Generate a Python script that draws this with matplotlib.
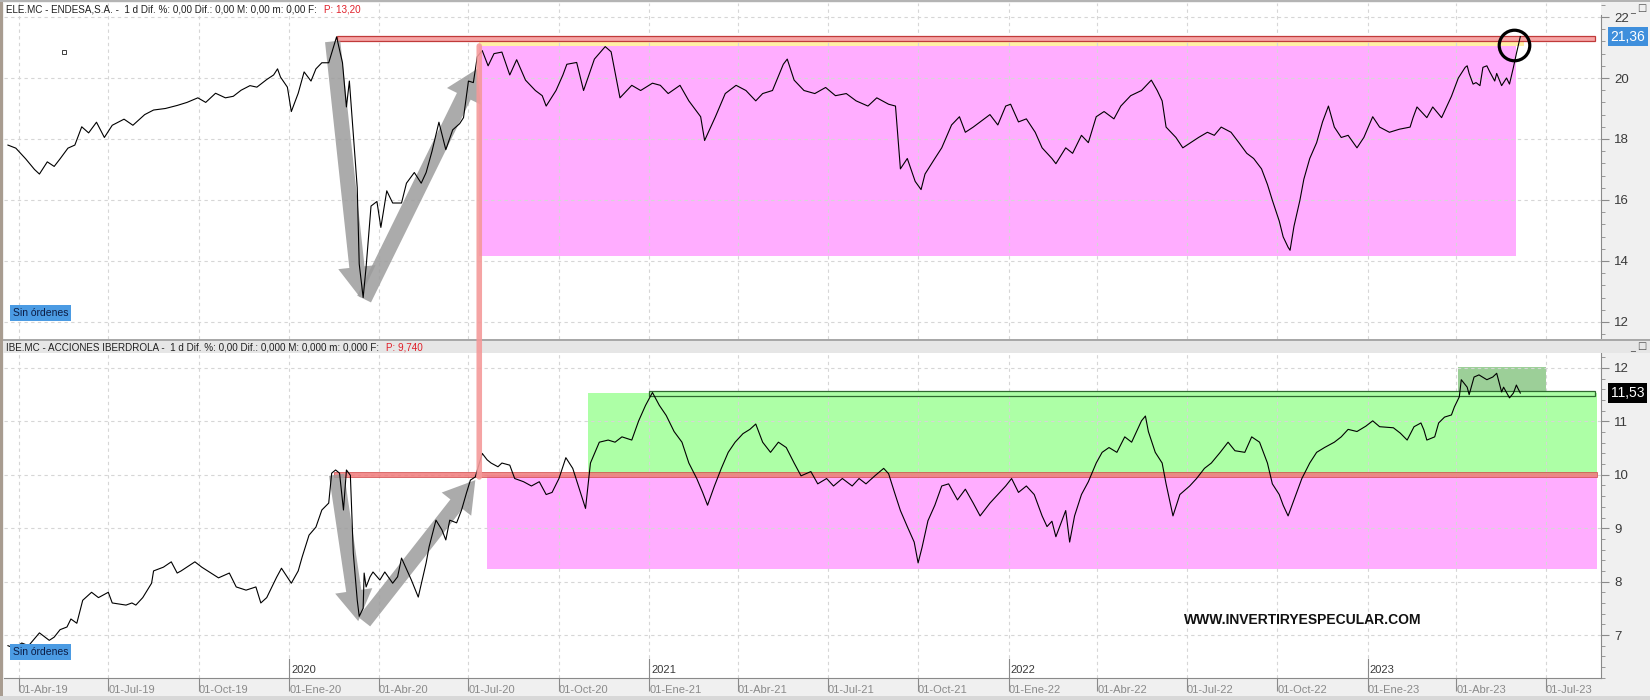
import matplotlib
matplotlib.use("Agg")
import matplotlib.pyplot as plt
import matplotlib.dates as mdates
from matplotlib.patches import Rectangle, FancyArrowPatch, ConnectionPatch
from matplotlib.ticker import MultipleLocator
import pandas as pd

# ---- ELE.MC (Endesa) daily close ----
ele_dates = [
    '2019-03-21', '2019-03-29', '2019-04-08', '2019-04-17', '2019-04-22', '2019-04-30', '2019-05-07',
    '2019-05-13', '2019-05-21', '2019-05-28', '2019-06-04', '2019-06-11', '2019-06-19', '2019-06-27',
    '2019-07-05', '2019-07-17', '2019-07-26', '2019-08-07', '2019-08-16', '2019-08-28', '2019-09-09',
    '2019-09-19', '2019-09-30', '2019-10-08', '2019-10-18', '2019-10-28', '2019-11-05', '2019-11-13',
    '2019-11-22', '2019-11-29', '2019-12-09', '2019-12-16', '2019-12-20', '2019-12-23', '2019-12-30',
    '2020-01-03', '2020-01-10', '2020-01-16', '2020-01-23', '2020-01-28', '2020-02-03', '2020-02-10',
    '2020-02-18', '2020-02-24', '2020-02-28', '2020-03-02', '2020-03-05', '2020-03-10', '2020-03-12',
    '2020-03-16', '2020-03-19', '2020-03-24', '2020-03-30', '2020-04-03', '2020-04-09', '2020-04-15',
    '2020-04-24', '2020-04-29', '2020-05-07', '2020-05-14', '2020-05-19', '2020-05-25', '2020-06-01',
    '2020-06-08', '2020-06-15', '2020-06-22', '2020-06-26', '2020-07-01', '2020-07-06', '2020-07-10',
    '2020-07-15', '2020-07-21', '2020-07-27', '2020-08-04', '2020-08-12', '2020-08-19', '2020-08-28',
    '2020-09-07', '2020-09-14', '2020-09-18', '2020-09-28', '2020-10-05', '2020-10-09', '2020-10-19',
    '2020-10-26', '2020-11-06', '2020-11-17', '2020-11-23', '2020-12-02', '2020-12-14', '2020-12-23',
    '2021-01-04', '2021-01-12', '2021-01-20', '2021-02-01', '2021-02-10', '2021-02-22', '2021-02-26',
    '2021-03-09', '2021-03-19', '2021-03-30', '2021-04-09', '2021-04-19', '2021-04-26', '2021-05-06',
    '2021-05-17', '2021-05-21', '2021-05-28', '2021-06-07', '2021-06-18', '2021-06-29', '2021-07-09',
    '2021-07-20', '2021-07-30', '2021-08-11', '2021-08-20', '2021-09-01', '2021-09-08', '2021-09-13',
    '2021-09-20', '2021-09-28', '2021-10-04', '2021-10-08', '2021-10-18', '2021-10-25', '2021-11-04',
    '2021-11-12', '2021-11-18', '2021-11-26', '2021-12-03', '2021-12-13', '2021-12-21', '2021-12-29',
    '2022-01-03', '2022-01-11', '2022-01-19', '2022-01-28', '2022-02-04', '2022-02-14', '2022-02-18',
    '2022-02-28', '2022-03-07', '2022-03-16', '2022-03-23', '2022-03-31', '2022-04-08', '2022-04-18',
    '2022-04-25', '2022-05-05', '2022-05-16', '2022-05-26', '2022-06-01', '2022-06-06', '2022-06-10',
    '2022-06-20', '2022-06-27', '2022-07-05', '2022-07-13', '2022-07-22', '2022-07-29', '2022-08-05',
    '2022-08-15', '2022-08-23', '2022-08-31', '2022-09-07', '2022-09-15', '2022-09-21', '2022-09-26',
    '2022-10-03', '2022-10-07', '2022-10-12', '2022-10-14', '2022-10-18', '2022-10-24', '2022-10-28',
    '2022-11-03', '2022-11-10', '2022-11-16', '2022-11-22', '2022-11-28', '2022-12-05', '2022-12-12',
    '2022-12-21', '2022-12-28', '2023-01-06', '2023-01-13', '2023-01-23', '2023-02-02', '2023-02-13',
    '2023-02-16', '2023-02-20', '2023-03-02', '2023-03-08', '2023-03-17', '2023-03-22', '2023-03-27',
    '2023-04-03', '2023-04-10', '2023-04-12', '2023-04-14', '2023-04-18', '2023-04-21', '2023-04-25',
    '2023-04-28', '2023-05-02', '2023-05-05', '2023-05-10', '2023-05-12', '2023-05-17', '2023-05-22',
    '2023-05-25', '2023-05-29', '2023-06-01', '2023-06-05',
]
ele_close = [
    17.8, 17.7, 17.35, 17.0, 16.85, 17.25, 17.1,
    17.35, 17.7, 17.8, 18.4, 18.2, 18.55, 18.05,
    18.45, 18.65, 18.45, 18.8, 18.95, 19.0, 19.1,
    19.2, 19.35, 19.2, 19.5, 19.35, 19.4, 19.6,
    19.75, 19.7, 19.95, 20.1, 20.3, 20.03, 19.7,
    18.9, 19.5, 20.2, 19.9, 20.3, 20.5, 20.5,
    21.35, 20.5, 19.05, 19.9, 18.6, 16.4, 13.9,
    12.8, 13.8, 15.8, 15.95, 15.1, 16.3, 15.9,
    15.9, 16.55, 16.9, 16.55, 16.9, 17.6, 18.55,
    17.65, 18.3, 18.5, 18.7, 19.9, 19.85, 20.7,
    20.9, 20.4, 20.8, 20.85, 20.1, 20.6, 19.93,
    19.59, 19.42, 19.08, 19.59, 20.1, 20.45, 20.51,
    19.59, 20.62, 21.03, 20.86, 19.35, 19.76, 19.59,
    19.83, 19.76, 19.49, 19.76, 19.25, 18.73, 17.95,
    18.73, 19.49, 19.76, 19.59, 19.25, 19.49, 19.59,
    20.45, 20.62, 19.93, 19.59, 19.49, 19.69, 19.42,
    19.49, 19.25, 19.08, 19.35, 19.14, 19.08, 17.02,
    17.36, 16.61, 16.34, 16.85, 17.36, 17.71, 18.46,
    18.73, 18.22, 18.39, 18.56, 18.8, 18.46, 19.08,
    19.14, 18.56, 18.66, 18.22, 17.71, 17.36, 17.19,
    17.71, 17.53, 18.12, 17.88, 18.73, 18.9, 18.66,
    19.08, 19.42, 19.59, 19.93, 19.59, 19.25, 18.39,
    18.05, 17.71, 17.88, 18.05, 18.22, 18.12, 18.39,
    18.22, 17.88, 17.53, 17.36, 17.02, 16.51, 15.99,
    15.31, 14.79, 14.45, 14.35, 15.14, 15.99, 16.68,
    17.36, 17.88, 18.56, 19.08, 18.39, 18.05, 18.12,
    17.71, 18.05, 18.73, 18.39, 18.22, 18.32, 18.39,
    18.7, 19.05, 18.7, 19.05, 18.7, 19.05, 19.4,
    20.0, 20.35, 20.4, 20.15, 19.8, 19.85, 19.75,
    20.35, 20.4, 20.2, 19.9, 20.15, 19.75, 20.0,
    19.8, 20.35, 20.8, 21.36,
]

# ---- IBE.MC (Iberdrola) daily close ----
ibe_dates = [
    '2019-03-21', '2019-03-28', '2019-04-04', '2019-04-11', '2019-04-22', '2019-05-02', '2019-05-07',
    '2019-05-13', '2019-05-20', '2019-05-24', '2019-05-30', '2019-06-05', '2019-06-14', '2019-06-21',
    '2019-07-01', '2019-07-05', '2019-07-19', '2019-07-25', '2019-07-29', '2019-08-05', '2019-08-14',
    '2019-08-16', '2019-08-26', '2019-09-03', '2019-09-09', '2019-09-13', '2019-09-27', '2019-10-04',
    '2019-10-21', '2019-11-01', '2019-11-08', '2019-11-18', '2019-11-28', '2019-12-03', '2019-12-09',
    '2019-12-19', '2019-12-24', '2020-01-03', '2020-01-10', '2020-01-14', '2020-01-21', '2020-01-28',
    '2020-02-03', '2020-02-10', '2020-02-13', '2020-02-17', '2020-02-21', '2020-02-25', '2020-02-28',
    '2020-03-03', '2020-03-06', '2020-03-10', '2020-03-12', '2020-03-16', '2020-03-17', '2020-03-19',
    '2020-03-23', '2020-03-26', '2020-04-02', '2020-04-07', '2020-04-15', '2020-04-20', '2020-04-24',
    '2020-05-04', '2020-05-11', '2020-05-15', '2020-05-19', '2020-05-22', '2020-05-29', '2020-06-04',
    '2020-06-08', '2020-06-12', '2020-06-19', '2020-06-24', '2020-06-29', '2020-07-03', '2020-07-08',
    '2020-07-15', '2020-07-20', '2020-07-24', '2020-07-31', '2020-08-04', '2020-08-12', '2020-08-17',
    '2020-08-26', '2020-09-03', '2020-09-11', '2020-09-18', '2020-09-24', '2020-10-01', '2020-10-08',
    '2020-10-15', '2020-10-20', '2020-10-28', '2020-11-02', '2020-11-11', '2020-11-20', '2020-11-27',
    '2020-12-04', '2020-12-14', '2020-12-21', '2020-12-28', '2021-01-04', '2021-01-11', '2021-01-18',
    '2021-01-26', '2021-02-03', '2021-02-10', '2021-02-18', '2021-02-24', '2021-03-01', '2021-03-08',
    '2021-03-15', '2021-03-22', '2021-03-29', '2021-04-06', '2021-04-13', '2021-04-19', '2021-04-26',
    '2021-05-04', '2021-05-12', '2021-05-20', '2021-05-28', '2021-06-04', '2021-06-14', '2021-06-21',
    '2021-06-30', '2021-07-07', '2021-07-16', '2021-07-26', '2021-08-02', '2021-08-09', '2021-08-18',
    '2021-08-27', '2021-09-01', '2021-09-07', '2021-09-13', '2021-09-20', '2021-09-27', '2021-10-01',
    '2021-10-05', '2021-10-11', '2021-10-18', '2021-10-25', '2021-11-01', '2021-11-10', '2021-11-18',
    '2021-11-26', '2021-12-03', '2021-12-13', '2021-12-21', '2021-12-29', '2022-01-04', '2022-01-11',
    '2022-01-19', '2022-01-27', '2022-02-04', '2022-02-09', '2022-02-14', '2022-02-18', '2022-02-28',
    '2022-03-04', '2022-03-09', '2022-03-16', '2022-03-23', '2022-03-31', '2022-04-06', '2022-04-13',
    '2022-04-21', '2022-04-29', '2022-05-06', '2022-05-16', '2022-05-20', '2022-05-23', '2022-05-30',
    '2022-06-06', '2022-06-10', '2022-06-17', '2022-06-24', '2022-07-04', '2022-07-11', '2022-07-19',
    '2022-07-26', '2022-08-04', '2022-08-12', '2022-08-19', '2022-08-29', '2022-09-05', '2022-09-13',
    '2022-09-21', '2022-09-26', '2022-10-03', '2022-10-07', '2022-10-12', '2022-10-18', '2022-10-26',
    '2022-11-03', '2022-11-10', '2022-11-18', '2022-11-28', '2022-12-05', '2022-12-12', '2022-12-21',
    '2022-12-30', '2023-01-06', '2023-01-13', '2023-01-27', '2023-02-03', '2023-02-10', '2023-02-17',
    '2023-02-24', '2023-02-27', '2023-03-02', '2023-03-10', '2023-03-14', '2023-03-20', '2023-03-27',
    '2023-03-30', '2023-04-04', '2023-04-06', '2023-04-12', '2023-04-14', '2023-04-19', '2023-04-24',
    '2023-05-02', '2023-05-08', '2023-05-12', '2023-05-17', '2023-05-19', '2023-05-25', '2023-05-29',
    '2023-06-01', '2023-06-02', '2023-06-05',
]
ibe_close = [
    6.8, 6.75, 6.85, 6.8, 7.04, 6.9, 6.96,
    7.1, 7.15, 7.3, 7.22, 7.65, 7.8, 7.7,
    7.8, 7.6, 7.56, 7.6, 7.56, 7.7, 7.97,
    8.2, 8.27, 8.37, 8.16, 8.2, 8.37, 8.27,
    8.07, 8.16, 7.9, 7.84, 7.9, 7.6, 7.7,
    8.08, 8.25, 7.97, 8.2, 8.46, 8.87, 9.02,
    9.34, 9.47, 10.03, 10.09, 10.03, 9.34, 10.09,
    9.99, 8.53, 7.65, 7.35, 7.5, 8.16, 7.9,
    8.09, 8.18, 8.03, 8.18, 7.97, 8.09, 8.44,
    8.03, 7.71, 8.03, 8.35, 8.65, 9.15, 8.97,
    8.78, 9.15, 9.1, 9.34, 9.66, 9.9, 9.96,
    10.4, 10.28, 10.22, 10.15, 10.22, 10.18, 9.93,
    9.87, 9.79, 9.87, 9.63, 9.67, 9.93, 10.32,
    10.12, 9.83, 9.37, 10.22, 10.61, 10.65, 10.61,
    10.71, 10.65, 11.01, 11.3, 11.54, 11.3, 11.11,
    10.81, 10.61, 10.22, 9.93, 9.67, 9.43, 9.79,
    10.12, 10.42, 10.61, 10.77, 10.85, 10.95, 10.61,
    10.42, 10.61, 10.51, 10.22, 9.98, 10.06, 9.83,
    9.93, 9.79, 9.93, 9.79, 9.93, 9.83, 9.98,
    10.12, 10.02, 9.67, 9.33, 9.03, 8.74, 8.35,
    8.64, 9.14, 9.43, 9.79, 9.83, 9.53, 9.73,
    9.47, 9.23, 9.47, 9.63, 9.79, 9.93, 9.67,
    9.79, 9.63, 9.23, 9.03, 9.13, 8.84, 9.33,
    8.74, 9.23, 9.63, 9.87, 10.22, 10.42, 10.51,
    10.42, 10.71, 10.61, 11.01, 11.1, 10.81, 10.42,
    10.22, 9.83, 9.23, 9.63, 9.79, 9.93, 10.12,
    10.22, 10.42, 10.61, 10.45, 10.42, 10.71, 10.61,
    10.22, 9.83, 9.63, 9.43, 9.23, 9.53, 9.93,
    10.22, 10.42, 10.51, 10.61, 10.71, 10.85, 10.81,
    10.91, 11.01, 10.9, 10.88, 10.78, 10.65, 10.9,
    10.97, 10.84, 10.65, 10.71, 10.97, 11.08, 11.12,
    11.27, 11.46, 11.78, 11.64, 11.5, 11.83, 11.87,
    11.78, 11.83, 11.9, 11.55, 11.64, 11.44, 11.53,
    11.68, 11.64, 11.53,
]

# x axis labels
quarter_dates = ['2019-04-01', '2019-07-01', '2019-10-01', '2020-01-01', '2020-04-01', '2020-07-01',
                 '2020-10-01', '2021-01-01', '2021-04-01', '2021-07-01', '2021-10-01', '2022-01-01',
                 '2022-04-01', '2022-07-01', '2022-10-01', '2023-01-01', '2023-04-01', '2023-07-01']
quarter_labels = ['01-Abr-19', '01-Jul-19', '01-Oct-19', '01-Ene-20', '01-Abr-20', '01-Jul-20',
                  '01-Oct-20', '01-Ene-21', '01-Abr-21', '01-Jul-21', '01-Oct-21', '01-Ene-22',
                  '01-Abr-22', '01-Jul-22', '01-Oct-22', '01-Ene-23', '01-Abr-23', '01-Jul-23']
year_dates = ['2020-01-01', '2021-01-01', '2022-01-01', '2023-01-01']
year_labels = ['2020', '2021', '2022', '2023']

# drawn zones: (start, end, low, high)
ele_red_band = ('2020-02-18', '2023-08-20', 21.22, 21.38)
ele_yellow = ('2020-07-12', '2023-06-09', 21.05, 21.22)
ele_pink = ('2020-07-12', '2023-06-01', 14.15, 21.05)
ibe_red_band = ('2020-02-15', '2023-08-22', 9.96, 10.06)
ibe_pink = ('2020-07-20', '2023-08-22', 8.24, 10.0)
ibe_green = ('2020-10-31', '2023-08-22', 10.0, 11.53)
ibe_green_band = ('2021-01-01', '2023-08-20', 11.48, 11.56)
ibe_dark_green = ('2023-04-03', '2023-07-01', 11.53, 12.02)
breakout_date = '2020-07-12'

# arrows: (start date, start value, end date, end value)
ele_arrows = [('2020-02-14', 21.2, '2020-03-13', 12.8), ('2020-03-17', 12.75, '2020-07-10', 20.3)]
ibe_arrows = [('2020-02-18', 10.0, '2020-03-11', 7.26), ('2020-03-17', 7.25, '2020-07-08', 9.9)]

ele_last = 21.36
ibe_last = 11.53

ele = pd.Series(ele_close, index=pd.to_datetime(ele_dates))
ibe = pd.Series(ibe_close, index=pd.to_datetime(ibe_dates))

SANS = ['Liberation Sans', 'DejaVu Sans']
W, H = 1650, 700


def fy(px):
    # figure fraction from a pixel row counted from the top
    return 1 - px / H


def dn(d):
    return mdates.date2num(pd.Timestamp(d))


def box(ax, zone, **kw):
    d0, d1, y0, y1 = zone
    ax.add_patch(Rectangle((dn(d0), y0), dn(d1) - dn(d0), y1 - y0, **kw))


def arrow(ax, a):
    d0, y0, d1, y1 = a
    p = FancyArrowPatch((dn(d0), y0), (dn(d1), y1),
                        arrowstyle='simple,head_length=1.1,head_width=1.35,tail_width=0.55',
                        mutation_scale=20, color='#9c9c9c', alpha=0.85, lw=0,
                        shrinkA=0, shrinkB=0, zorder=3)
    ax.add_patch(p)


fig = plt.figure(figsize=(16.5, 7), dpi=100, facecolor='#f0f0f0')
ax1 = fig.add_axes([4 / W, fy(339), 1597 / W, (339 - 3) / H])
ax2 = fig.add_axes([4 / W, fy(678), 1597 / W, (678 - 353) / H])

xmin, xmax = pd.Timestamp('2019-03-17'), pd.Timestamp('2023-08-26')

for ax in (ax1, ax2):
    ax.set_facecolor('white')
    ax.set_xlim(xmin, xmax)
    for s in ('top', 'left', 'bottom'):
        ax.spines[s].set_visible(False)
    ax.spines['right'].set_color('#8a8a8a')
    ax.yaxis.tick_right()
    ax.tick_params(axis='y', which='both', colors='#8a8a8a', labelcolor='#3a3a3a',
                   labelsize=9.5, labelfontfamily='Liberation Sans')
    ax.tick_params(axis='y', which='major', length=6)
    ax.tick_params(axis='y', which='minor', length=3)
    ax.set_xticks(pd.to_datetime(quarter_dates))
    ax.grid(True, which='major', linestyle=(0, (3, 3)), color='#d6d6d6', linewidth=0.8)

# ---- top panel: Endesa ----
ax1.set_ylim(11.44, 22.46)
ax1.yaxis.set_major_locator(MultipleLocator(2))
ax1.yaxis.set_minor_locator(MultipleLocator(0.4))
ax1.spines['right'].set_bounds(11.44, 22.07)
ax1.tick_params(axis='x', length=0, labelbottom=False)

box(ax1, ele_pink, facecolor='#ffadff', lw=0, zorder=1)
box(ax1, ele_yellow, facecolor='#fff0a6', lw=0, zorder=1)
box(ax1, ele_red_band, facecolor='#f6a6a6', edgecolor='#c03a3a', lw=0.9, zorder=2)
for a in ele_arrows:
    arrow(ax1, a)
ax1.plot(ele.index, ele.values, color='black', lw=0.8, zorder=4)
ax1.plot(pd.Timestamp('2023-05-30'), 21.08, marker='o', ms=22, mfc='none', mec='black', mew=2.3, zorder=5)
ax1.plot(pd.Timestamp('2019-05-17'), 20.85, marker='s', ms=3, mfc='white', mec='#404040', mew=0.7)

ax1.text(1.006, ele_last, f'{ele_last:.2f}'.replace('.', ','), transform=ax1.get_yaxis_transform(),
         ha='left', va='center', fontsize=10, color='white', family=SANS, clip_on=False,
         bbox=dict(boxstyle='square,pad=0.2', facecolor='#3f8fdc', edgecolor='none'))

# ---- bottom panel: Iberdrola ----
ax2.set_ylim(6.195, 12.28)
ax2.yaxis.set_major_locator(MultipleLocator(1))
ax2.yaxis.set_minor_locator(MultipleLocator(0.2))
ax2.spines['bottom'].set_visible(True)
ax2.spines['bottom'].set_color('#8a8a8a')
ax2.set_xticks(pd.to_datetime(quarter_dates), labels=quarter_labels, ha='left',
               fontsize=8, color='#3a3a3a', family=SANS)
ax2.tick_params(axis='x', length=9, colors='#8a8a8a', pad=-4)

box(ax2, ibe_pink, facecolor='#ffadff', lw=0, zorder=1)
box(ax2, ibe_green, facecolor='#adffa6', lw=0, zorder=1)
box(ax2, ibe_dark_green, facecolor='#9ccf98', lw=0, zorder=1)
box(ax2, ibe_green_band, facecolor='#adffa6', edgecolor='#2f6a2f', lw=0.9, zorder=2)
box(ax2, ibe_red_band, facecolor='#f07a7a', edgecolor='#d04a4a', lw=0.6, alpha=0.85, zorder=2)
for a in ibe_arrows:
    arrow(ax2, a)
ax2.plot(ibe.index, ibe.values, color='black', lw=0.8, zorder=4)

for d, lab in zip(year_dates, year_labels):
    ax2.axvline(pd.Timestamp(d), ymin=0, ymax=0.06, color='#8a8a8a', lw=0.8, zorder=3)
    ax2.annotate(lab, (pd.Timestamp(d), 6.195), xytext=(1.5, 2), textcoords='offset points',
                 ha='left', va='bottom', fontsize=8, color='#3a3a3a', family=SANS)

ax2.text(1.006, ibe_last, f'{ibe_last:.2f}'.replace('.', ','), transform=ax2.get_yaxis_transform(),
         ha='left', va='center', fontsize=10, color='white', family=SANS, clip_on=False,
         bbox=dict(boxstyle='square,pad=0.2', facecolor='black', edgecolor='none'))

# salmon breakout line joining both panels
con = ConnectionPatch(xyA=(dn(breakout_date), ele_yellow[2]), coordsA=ax1.transData,
                      xyB=(dn(breakout_date), ibe_red_band[2]), coordsB=ax2.transData,
                      color='#f49a9a', lw=4, alpha=0.9, zorder=3)
fig.add_artist(con)

# window chrome
fig.add_artist(Rectangle((0, fy(353)), 1, (353 - 339) / H, transform=fig.transFigure,
                         facecolor='#e6e6e6', edgecolor='none', zorder=1))
fig.add_artist(Rectangle((0, fy(341)), 1, 2 / H, transform=fig.transFigure,
                         facecolor='#a8a8a8', edgecolor='none', zorder=1))
fig.add_artist(Rectangle((0, 0), 3 / W, 1, transform=fig.transFigure,
                         facecolor='#a89c90', edgecolor='none', zorder=6))
fig.add_artist(Rectangle((0, fy(2)), 1, 2 / H, transform=fig.transFigure,
                         facecolor='#b4b4b4', edgecolor='none', zorder=6))
fig.add_artist(Rectangle((0, 0), 1, 4 / H, transform=fig.transFigure,
                         facecolor='#d8d8d8', edgecolor='none', zorder=6))

# panel headers
t1 = fig.text(6 / W, fy(9), 'ELE.MC - ENDESA,S.A. -  1 d Dif. %: 0,00 Dif.: 0,00 M: 0,00 m: 0,00 F:',
              ha='left', va='center', fontsize=7.1, color='#202020', family=SANS, zorder=7)
fig.add_artist(plt.Annotation('P: 13,20', xy=(1, 0.5), xycoords=t1, xytext=(5, 0),
                              textcoords='offset points', ha='left', va='center',
                              fontsize=7.1, color='#e0202a', family=SANS, zorder=7))
t2 = fig.text(6 / W, fy(348), 'IBE.MC - ACCIONES IBERDROLA -  1 d Dif. %: 0,00 Dif.: 0,000 M: 0,000 m: 0,000 F:',
              ha='left', va='center', fontsize=7.1, color='#202020', family=SANS, zorder=7)
fig.add_artist(plt.Annotation('P: 9,740', xy=(1, 0.5), xycoords=t2, xytext=(5, 0),
                              textcoords='offset points', ha='left', va='center',
                              fontsize=7.1, color='#e0202a', family=SANS, zorder=7))

for px in (9, 347):
    fig.text(1630 / W, fy(px), '_ \u25a1', ha='left', va='center', fontsize=7, color='#505050', zorder=7)

# order labels
for px in (313, 652):
    fig.text(13 / W, fy(px), 'Sin órdenes', ha='left', va='center', fontsize=7.5, color='#0c1c44',
             family=SANS, zorder=7,
             bbox=dict(boxstyle='square,pad=0.25', facecolor='#4b9be3', edgecolor='none'))

fig.text(1303 / W, fy(620), 'WWW.INVERTIRYESPECULAR.COM', ha='center', va='center',
         fontsize=10, fontweight='bold', color='#111111', family=SANS, zorder=7)

fig.savefig('out.png', dpi=100, facecolor=fig.get_facecolor())
